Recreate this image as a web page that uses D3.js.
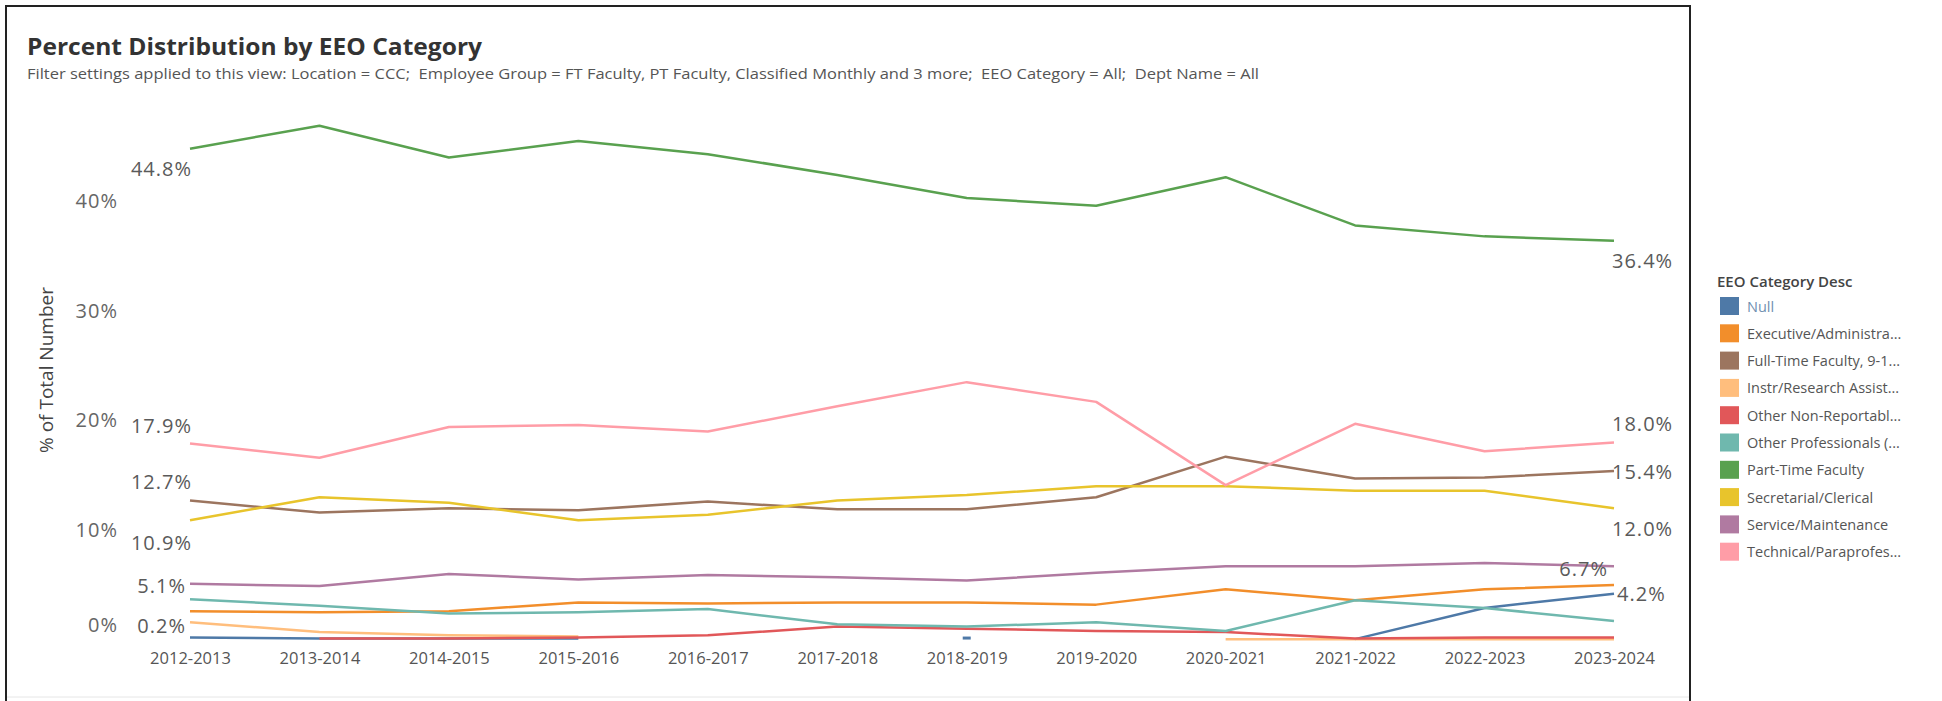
<!DOCTYPE html>
<html>
<head>
<meta charset="utf-8">
<script src="https://cdn.jsdelivr.net/npm/d3@7"></script>
<style>
  html, body { margin: 0; padding: 0; background: #fff; }
  svg { display: block; }
  text { font-family: "Open Sans", "Noto Sans", sans-serif; }
</style>
</head>
<body>
<svg id="chart" width="1942" height="701"></svg>
<script>
// ---------------- data ----------------
const years = ["2012-2013","2013-2014","2014-2015","2015-2016","2016-2017","2017-2018",
               "2018-2019","2019-2020","2020-2021","2021-2022","2022-2023","2023-2024"];

const categories = ["Null","Executive/Administra...","Full-Time Faculty, 9-1...","Instr/Research Assist...",
  "Other Non-Reportabl...","Other Professionals (...","Part-Time Faculty","Secretarial/Clerical",
  "Service/Maintenance","Technical/Paraprofes..."];

const nullCat      = [0.2, 0.1, 0.1, 0.1, null, null, 0.15, null, null, 0.05, 2.9, 4.2];
const executive    = [2.6, 2.5, 2.6, 3.4, 3.3, 3.4, 3.4, 3.2, 4.6, 3.6, 4.6, 5.0];
const fullTime     = [12.7, 11.6, 12.0, 11.8, 12.6, 11.9, 11.9, 13.0, 16.7, 14.7, 14.8, 15.4];
const instr        = [1.6, 0.7, 0.4, 0.3, null, null, null, null, 0.05, 0.05, 0.05, 0.05];
const otherNonRep  = [null, 0.1, 0.1, 0.2, 0.4, 1.2, 1.0, 0.8, 0.7, 0.1, 0.2, 0.2];
const otherProf    = [3.7, 3.1, 2.4, 2.5, 2.8, 1.4, 1.2, 1.6, 0.8, 3.6, 2.9, 1.7];
const partTime     = [44.8, 46.9, 44.0, 45.5, 44.3, 42.4, 40.3, 39.6, 42.2, 37.8, 36.8, 36.4];
const secretarial  = [10.9, 13.0, 12.5, 10.9, 11.4, 12.7, 13.2, 14.0, 14.0, 13.6, 13.6, 12.0];
const service      = [5.1, 4.9, 6.0, 5.5, 5.9, 5.7, 5.4, 6.1, 6.7, 6.7, 7.0, 6.7];
const technical    = [17.9, 16.6, 19.4, 19.6, 19.0, 21.3, 23.5, 21.7, 14.1, 19.7, 17.2, 18.0];

const yTicks = [0, 10, 20, 30, 40];

const seriesValues = [nullCat, executive, fullTime, instr, otherNonRep, otherProf,
                      partTime, secretarial, service, technical];
const colors = ["#4e79a7","#f28e2b","#9c755f","#ffbe7d","#e15759","#6fb8ae",
                "#59a14f","#e8c42c","#b07aa1","#ff9da7"];

// ---------------- drawing ----------------
const svg = d3.select("#chart");

// frame
svg.append("rect").attr("x",0).attr("y",0).attr("width",1942).attr("height",701).attr("fill","#fff");
svg.append("line").attr("x1",6).attr("x2",1690).attr("y1",6).attr("y2",6).attr("stroke","#222").attr("stroke-width",2);
svg.append("line").attr("x1",6).attr("x2",6).attr("y1",5).attr("y2",701).attr("stroke","#222").attr("stroke-width",2);
svg.append("line").attr("x1",1690).attr("x2",1690).attr("y1",5).attr("y2",701).attr("stroke","#222").attr("stroke-width",2);
svg.append("line").attr("x1",7).attr("x2",1689).attr("y1",697).attr("y2",697).attr("stroke","#e6e6e6").attr("stroke-width",1);

// titles
svg.append("text").attr("x",27).attr("y",55)
  .attr("font-size",23).attr("font-weight",700).attr("fill","#333")
  .attr("textLength",455).attr("lengthAdjust","spacingAndGlyphs")
  .text("Percent Distribution by EEO Category");
svg.append("text").attr("x",27).attr("y",79)
  .attr("font-size",14).attr("fill","#555")
  .style("white-space","pre")
  .attr("textLength",1232).attr("lengthAdjust","spacingAndGlyphs")
  .text("Filter settings applied to this view: Location = CCC;  Employee Group = FT Faculty, PT Faculty, Classified Monthly and 3 more;  EEO Category = All;  Dept Name = All");

// scales
const x = d3.scalePoint().domain(years).range([190, 1614]);
const y = d3.scaleLinear().domain([0, 40]).range([639.7, 201.3]);

// y axis
const yAxis = svg.append("g").attr("transform","translate(118,0)")
  .call(d3.axisLeft(y).tickValues(yTicks).tickFormat(d => d + "%").tickSize(0).tickPadding(0));
yAxis.select(".domain").remove();
yAxis.selectAll("text").attr("font-size",20).attr("fill","#666")
  .attr("font-family","'Open Sans', sans-serif").attr("letter-spacing","1px")
  .attr("dy", d => d === 0 ? "-0.4em" : "0.32em");

svg.append("text")
  .attr("transform","translate(53,370) rotate(-90)")
  .attr("text-anchor","middle").attr("font-size",19).attr("fill","#444")
  .text("% of Total Number");

// x axis
const xAxis = svg.append("g").attr("transform","translate(0,652)")
  .call(d3.axisBottom(x).tickSize(0).tickPadding(0));
xAxis.select(".domain").remove();
xAxis.selectAll("text").attr("font-size",16.5).attr("fill","#555")
  .attr("font-family","'Open Sans', sans-serif").attr("dy","0.72em");

// lines
const line = d3.line()
  .defined(d => d.v !== null)
  .x(d => x(d.year))
  .y(d => y(d.v));

const plot = svg.append("g");
seriesValues.forEach((vals, i) => {
  const pts = vals.map((v, j) => ({ year: years[j], v }));
  plot.append("path").datum(pts)
    .attr("fill","none").attr("stroke",colors[i])
    .attr("stroke-width",2.5).attr("stroke-linejoin","round")
    .attr("d", line);
  // isolated points
  pts.forEach((p, j) => {
    if (p.v === null) return;
    const prev = j > 0 ? pts[j-1].v : null;
    const next = j < pts.length - 1 ? pts[j+1].v : null;
    if (prev === null && next === null) {
      plot.append("rect").attr("x", x(p.year) - 4).attr("y", y(p.v) - 1.5)
        .attr("width", 8).attr("height", 3).attr("fill", colors[i]);
    }
  });
});

// data labels (first & last values)
const fmt = v => d3.format(".1f")(v) + "%";
const labelStyle = {
  // series index : [start dx, start dy, start anchor, end dx, end dy, end anchor]
  6: [2, 20, "end", -2, 20, "start"],
  9: [2, -18, "end", -2, -19, "start"],
  2: [2, -19, "end", -2, 1, "start"],
  7: [2, 22, "end", -2, 20, "start"],
  8: [-4, 2, "end", -6, 2, "end"],
  0: [-4, -12, "end", 3, 0, "start"]
};
const labels = svg.append("g");
Object.keys(labelStyle).forEach(k => {
  const i = +k, s = labelStyle[k], vals = seriesValues[i];
  const first = vals[0], last = vals[vals.length - 1];
  labels.append("text")
    .attr("x", x(years[0]) + s[0]).attr("y", y(first) + s[1])
    .attr("text-anchor", s[2]).attr("dominant-baseline","central")
    .attr("font-size",20).attr("fill","#5a5a5a").attr("letter-spacing","1px")
    .text(fmt(first));
  labels.append("text")
    .attr("x", x(years[years.length-1]) + s[3]).attr("y", y(last) + s[4])
    .attr("text-anchor", s[5]).attr("dominant-baseline","central")
    .attr("font-size",20).attr("fill","#5a5a5a").attr("letter-spacing","1px")
    .text(fmt(last));
});

// legend
const legend = svg.append("g").attr("transform","translate(1717,0)");
legend.append("text").attr("x",0).attr("y",281).attr("dominant-baseline","central")
  .attr("font-size",15).attr("font-weight",600).attr("fill","#444")
  .text("EEO Category Desc");
categories.forEach((c, i) => {
  const cy = 306 + i * 27.3;
  legend.append("rect").attr("x",3).attr("y",cy - 9).attr("width",19).attr("height",18)
    .attr("fill",colors[i]);
  legend.append("text").attr("x",30).attr("y",cy).attr("dominant-baseline","central")
    .attr("font-size",14.5).attr("fill", i === 0 ? "#6f8fb0" : "#555")
    .text(c);
});
</script>
</body>
</html>
